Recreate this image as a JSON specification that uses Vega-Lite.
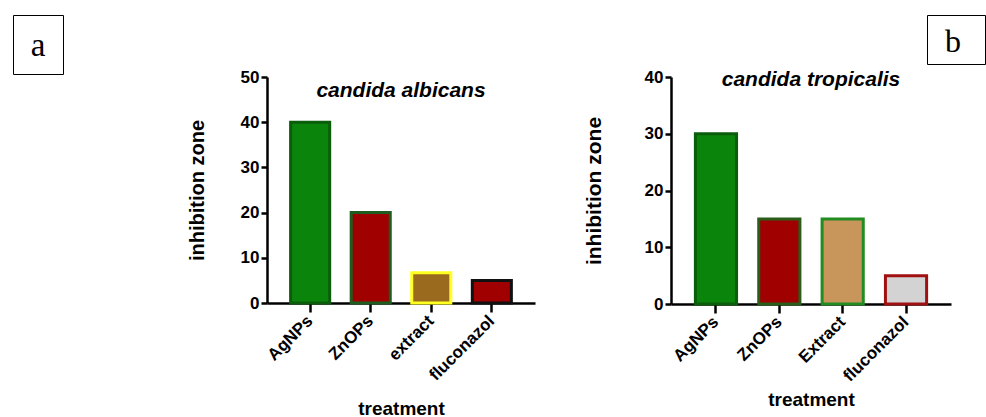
{
  "$schema": "https://vega.github.io/schema/vega-lite/v6.json",
  "background": "white",
  "padding": {"left": 12, "top": 14, "right": 0, "bottom": 0},
  "config": {
    "view": {"stroke": null},
    "font": "Liberation Sans",
    "axis": {
      "labelColor": "black", "labelFontWeight": "bold", "labelFontSize": 17,
      "titleColor": "black", "titleFontWeight": "bold",
      "domainColor": "black", "domainWidth": 2.5, "tickColor": "black", "tickWidth": 2.5,
      "grid": false, "zindex": 1
    }
  },
  "spacing": -7,
  "vconcat": [
    {
      "spacing": 0,
      "hconcat": [
        {
          "width": 50, "height": 59,
          "view": {"stroke": "black", "strokeWidth": 1},
          "data": {"values": [{"label": "a"}]},
          "mark": {"type": "text", "font": "Liberation Serif", "fontSize": 33, "color": "black", "dy": 1},
          "encoding": {"text": {"field": "label"}}
        },
        {
          "width": 862, "height": 10,
          "data": {"values": [{"label": ""}]},
          "mark": {"type": "text"},
          "encoding": {"text": {"field": "label"}}
        },
        {
          "width": 58, "height": 49,
          "view": {"stroke": "black", "strokeWidth": 1},
          "data": {"values": [{"label": "b"}]},
          "mark": {"type": "text", "font": "Liberation Serif", "fontSize": 32, "color": "black", "dx": -3, "dy": 2},
          "encoding": {"text": {"field": "label"}}
        }
      ]
    },
    {
      "spacing": 48,
      "resolve": {"scale": {"fill": "independent", "stroke": "independent", "x": "independent", "y": "independent"}},
      "hconcat": [
        {
          "width": 126, "height": 10,
          "data": {"values": [{"label": ""}]},
          "mark": {"type": "text"},
          "encoding": {"text": {"field": "label"}}
        },
        {
          "width": 268, "height": 226,
          "title": {"text": "candida albicans", "font": "Liberation Sans", "fontStyle": "italic", "fontWeight": "bold", "fontSize": 21, "color": "black", "offset": -33},
          "data": {"values": [
            {"treatment": "AgNPs", "zone": 40},
            {"treatment": "ZnOPs", "zone": 20},
            {"treatment": "extract", "zone": 6.7},
            {"treatment": "fluconazol", "zone": 5}
          ]},
          "mark": {"type": "bar", "strokeWidth": 3},
          "encoding": {
            "x": {"field": "treatment", "type": "nominal", "sort": null,
              "scale": {"paddingInner": 0.355, "paddingOuter": 0.39},
              "axis": {"title": "treatment", "titleFontSize": 19, "labelAngle": -45, "labelBaseline": "middle", "labelAlign": "right", "labelPadding": 6, "tickSize": 9, "titlePadding": 16}},
            "y": {"field": "zone", "type": "quantitative",
              "scale": {"domain": [0, 50], "nice": false},
              "axis": {"title": "inhibition zone", "titleFontSize": 20, "values": [0, 10, 20, 30, 40, 50], "tickSize": 6, "labelPadding": 2, "titlePadding": 33}},
            "fill": {"field": "treatment", "type": "nominal", "legend": null,
              "scale": {"domain": ["AgNPs", "ZnOPs", "extract", "fluconazol"], "range": ["#0b840b", "#a00000", "#9a6a1e", "#a00000"]}},
            "stroke": {"field": "treatment", "type": "nominal", "legend": null,
              "scale": {"domain": ["AgNPs", "ZnOPs", "extract", "fluconazol"], "range": ["#0b5c0b", "#1f5c1f", "#ffff22", "#111111"]}}
          }
        },
        {
          "width": 280, "height": 227,
          "title": {"text": "candida tropicalis", "font": "Liberation Sans", "fontStyle": "italic", "fontWeight": "bold", "fontSize": 21, "color": "black", "offset": -22},
          "data": {"values": [
            {"treatment": "AgNPs", "zone": 30},
            {"treatment": "ZnOPs", "zone": 15},
            {"treatment": "Extract", "zone": 15},
            {"treatment": "fluconazol", "zone": 5}
          ]},
          "mark": {"type": "bar", "strokeWidth": 3},
          "encoding": {
            "x": {"field": "treatment", "type": "nominal", "sort": null,
              "scale": {"paddingInner": 0.35, "paddingOuter": 0.385},
              "axis": {"title": "treatment", "titleFontSize": 19, "labelAngle": -45, "labelBaseline": "middle", "labelAlign": "right", "labelPadding": 6, "tickSize": 9, "titlePadding": 6}},
            "y": {"field": "zone", "type": "quantitative",
              "scale": {"domain": [0, 40], "nice": false},
              "axis": {"title": "inhibition zone", "titleFontSize": 21, "values": [0, 10, 20, 30, 40], "tickSize": 6, "labelPadding": 2, "titlePadding": 40}},
            "fill": {"field": "treatment", "type": "nominal", "legend": null,
              "scale": {"domain": ["AgNPs", "ZnOPs", "Extract", "fluconazol"], "range": ["#0b840b", "#a00000", "#c8955a", "#d3d3d3"]}},
            "stroke": {"field": "treatment", "type": "nominal", "legend": null,
              "scale": {"domain": ["AgNPs", "ZnOPs", "Extract", "fluconazol"], "range": ["#0b5c0b", "#2a5c1a", "#228b22", "#a01010"]}}
          }
        }
      ]
    }
  ]
}
